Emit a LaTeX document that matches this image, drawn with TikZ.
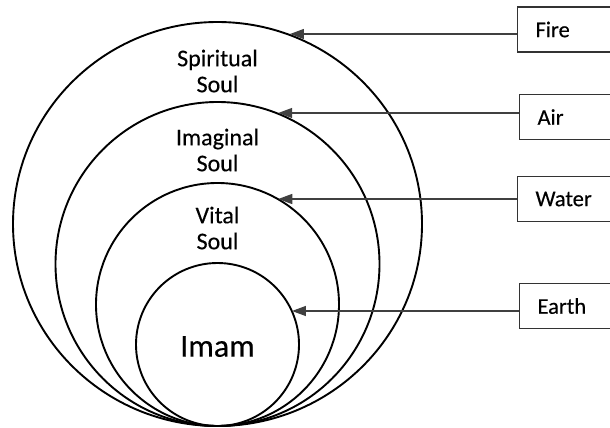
\documentclass[tikz,border=0pt]{standalone}
\usepackage{fontspec}
\setmainfont{Carlito}[FakeBold=0.35]
\usetikzlibrary{arrows.meta,shapes.geometric}
\begin{document}
\begin{tikzpicture}[x=1pt,y=-1pt,
  ring/.style={circle,draw=black,line width=1.9pt,inner sep=0pt,outer sep=0pt},
  soullabel/.style={align=center,font=\fontsize{24}{26}\selectfont,inner sep=0pt,text=black},
  element/.style={draw=black!80,line width=1.1pt,rectangle,anchor=west,
    minimum height=45pt,text width=63pt,align=left,inner xsep=18pt,inner ysep=0pt,
    font=\fontsize{22.5}{26}\selectfont,text=black},
  feed/.style={draw=black!75,line width=1.3pt,-{Triangle[length=14pt,width=10pt]}}]
\useasboundingbox (0,0) rectangle (610,428);

% nested souls, all touching at the bottom
\node[ring,ellipse,minimum width=409pt,minimum height=404pt] (spiritual) at (217.5,224) {};
\node[ring,minimum size=324pt] (imaginal)  at (217.5,264)   {};
\node[ring,minimum size=243pt] (vital)     at (217.5,304.5) {};
\node[ring,minimum size=163pt] (imam)      at (217.5,344.5) {};

\node[soullabel] (spiritualText) at (217.5,71)  {Spiritual\\Soul};
\node[soullabel] (imaginalText)  at (217.5,150) {Imaginal\\Soul};
\node[soullabel] (vitalText)     at (217.5,228) {Vital\\Soul};
\node[inner sep=0pt,font=\fontsize{32}{36}\selectfont,text=black] (imamText) at (217.5,346.5) {Imam};

% elements
\node[element] (fire)  at (517,29.5) {Fire};
\node[element] (air)   at (519,117)  {Air};
\node[element] (water) at (517,199)  {Water};
\node[element] (earth) at (519,306)  {Earth};

\coordinate (fireIn)  at ([yshift=-4.5pt]fire.west);
\coordinate (airIn)   at ([yshift=4pt]air.west);
\coordinate (waterIn) at (water.west);
\coordinate (earthIn) at ([yshift=-5pt]earth.west);

\draw[feed] (fireIn)  -- (spiritual.69.9 |- fireIn);
\draw[feed] (airIn)   -- (imaginal.68.8 |- airIn);
\draw[feed] (waterIn) -- (vital.60.3 |- waterIn);
\draw[feed] (earthIn) -- (imam.24.3 |- earthIn);
\end{tikzpicture}
\end{document}
